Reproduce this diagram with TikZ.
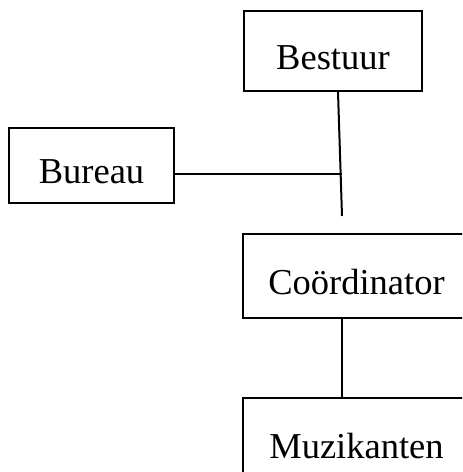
\documentclass[tikz,border=0pt]{standalone}
\usepackage{fontspec}
\setmainfont{Liberation Serif}
\usetikzlibrary{positioning}
\tikzset{every picture/.style={line width=1pt}}
\tikzset{unit/.style={draw, rectangle, text height=18pt, text depth=0pt, font=\fontsize{18.25}{22}\selectfont}}

\begin{document}
\begin{tikzpicture}[x=0.5pt, y=-0.5pt]

  \useasboundingbox (0,0) rectangle (462,472);
  \clip (0,0) rectangle (462,472);

  \node[unit, minimum width=89pt, minimum height=40pt] (bestuur) at (333,51) {Bestuur};
  \node[unit, minimum width=82.5pt, minimum height=37.5pt] (bureau) at (91.5,165.5) {Bureau};
  \node[unit, minimum width=113.5pt, minimum height=42pt] (coord) at (356.5,276) {Co\"ordinator};
  \node[unit, minimum width=113.5pt, minimum height=42pt] (muziek) [below=39pt of coord] {Muzikanten};

  \coordinate (tak) at (342,216);
  \coordinate (kruis) at (342,174);

  \draw ([xshift=2.5pt]bestuur.south) -- (tak);
  \draw (bureau.east |- kruis) -- (kruis);
  \draw (coord.south -| tak) -- (muziek.north -| tak);

\end{tikzpicture}
\end{document}
